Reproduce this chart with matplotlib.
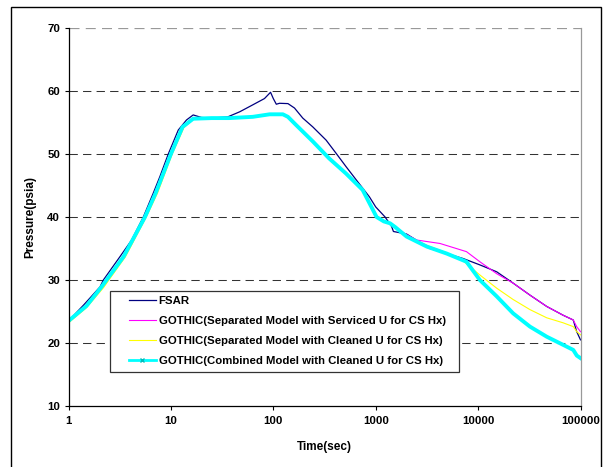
import matplotlib
matplotlib.use("Agg")
import matplotlib.pyplot as plt
from matplotlib.patches import Rectangle
from matplotlib.lines import Line2D

plt.rcParams['font.family'] = ['Liberation Sans', 'DejaVu Sans']
plt.rcParams['font.weight'] = 'bold'

# ---- data ----
fsar_t = [1, 1.4, 2.03, 2.19, 3.18, 4.14, 5.38, 6.73, 7.8, 9.43, 11.8, 14.2, 16.5, 19.9, 25,
          36, 47, 63, 82, 94, 100, 107, 115, 139, 161, 194, 243, 328, 411, 513, 645, 868,
          1000, 1235, 1430, 1490, 2000, 3390, 4930, 7170, 10400, 15200, 22000, 32100,
          46800, 67800, 85000, 91800, 100000]
fsar_p = [23.5, 26.0, 28.9, 30.0, 33.7, 36.35, 40.0, 43.8, 46.4, 50.0, 53.8, 55.4, 56.2, 55.8,
          55.7, 55.9, 56.7, 57.8, 58.8, 59.8, 58.8, 57.9, 58.05, 58.0, 57.3, 55.7, 54.3,
          52.2, 50.1, 48.0, 45.9, 43.2, 41.6, 40.0, 38.5, 37.7, 37.3, 35.0, 34.2, 33.4,
          32.4, 31.3, 29.5, 27.6, 25.8, 24.4, 23.65, 21.8, 20.5]

comb_t = [1, 1.5, 2.1, 2.35, 3.45, 5.58, 7.1, 10, 13, 16.5, 25, 37, 63, 92, 124, 139,
          167, 243, 351, 513, 745, 1020, 1200, 1380, 1550, 2000, 3160, 4930, 7700,
          10400, 15200, 22000, 32100, 46800, 67800, 85000, 92000, 100000]
comb_p = [23.5, 25.9, 28.9, 30.0, 33.7, 40.0, 43.8, 50.0, 54.3, 55.6, 55.7, 55.7, 55.9,
          56.3, 56.3, 55.9, 54.6, 52.0, 49.3, 46.9, 44.3, 40.0, 39.3, 39.0, 38.4, 36.9,
          35.3, 34.2, 32.9, 30.0, 27.4, 24.7, 22.6, 21.0, 19.7, 18.9, 18.0, 17.6]

serv_t = [1, 1.5, 2.15, 2.42, 3.55, 5.7, 7.3, 10.2, 13.3, 16.8, 25, 37, 63, 92, 124, 139,
          167, 243, 351, 513, 745, 1020, 1200, 1380, 1550, 2000, 2500, 4240, 7700,
          10400, 15200, 22000, 32100, 46800, 67800, 85000, 91800, 100000]
serv_p = [23.3, 25.7, 28.9, 30.0, 33.7, 40.0, 43.8, 50.0, 54.2, 55.6, 55.7, 55.7, 55.9,
          56.2, 56.2, 55.8, 54.5, 51.9, 49.2, 46.8, 44.2, 40.0, 39.3, 39.0, 38.4, 37.2,
          36.35, 35.8, 34.5, 32.9, 31.0, 29.5, 27.6, 25.8, 24.4, 23.65, 22.6, 21.8]

clean_t = [1, 1.5, 2.2, 2.48, 3.6, 5.75, 7.4, 10.3, 13.4, 16.8, 25, 37, 63, 92, 124, 139,
           167, 243, 351, 513, 745, 1020, 1200, 1380, 1550, 2000, 3160, 4930, 7170,
           10400, 15200, 22000, 32100, 46800, 67800, 85000, 92000, 100000]
clean_p = [23.2, 25.6, 28.8, 30.0, 33.7, 40.0, 43.8, 50.0, 54.2, 55.6, 55.7, 55.7, 55.9,
           56.2, 56.2, 55.8, 54.5, 51.9, 49.2, 46.8, 44.2, 40.0, 39.3, 39.0, 38.4, 37.0,
           35.5, 34.3, 33.0, 30.8, 28.7, 26.9, 25.3, 24.0, 23.2, 22.6, 21.8, 21.3]

labels = ["FSAR",
          "GOTHIC(Separated Model with Serviced U for CS Hx)",
          "GOTHIC(Separated Model with Cleaned U for CS Hx)",
          "GOTHIC(Combined Model with Cleaned U for CS Hx)"]
xticks = [1, 10, 100, 1000, 10000, 100000]
xticklabels = ["1", "10", "100", "1000", "10000", "100000"]
yticks = [10, 20, 30, 40, 50, 60, 70]

W, H = 604, 467
fig = plt.figure(figsize=(W / 100, H / 100), dpi=100)
ax = fig.add_axes([68.5 / W, 1 - 406 / H, (580.5 - 68.5) / W, (406 - 28) / H])

l1, = ax.plot(fsar_t, fsar_p, color='#000080', lw=0.9)
l2, = ax.plot(serv_t, serv_p, color='#ff00ff', lw=0.8)
l3, = ax.plot(clean_t, clean_p, color='#ffff00', lw=0.8)
l4, = ax.plot(comb_t, comb_p, color='#00ffff', lw=2.8)

ax.set_xscale('log')
ax.set_xlim(1, 100000)
ax.set_ylim(10, 70)
ax.set_xticks(xticks)
ax.set_xticklabels(xticklabels)
ax.minorticks_off()
ax.set_yticks(yticks)

for y in yticks[1:-1]:
    ax.axhline(y, color='#333333', lw=0.75, dashes=(8, 5), zorder=0.5)
ax.axhline(70, color='#999999', lw=0.9, dashes=(8, 5), zorder=0.5)

ax.spines['top'].set_visible(False)
ax.spines['right'].set_color('#999999')
ax.spines['right'].set_linewidth(0.9)
for s in ['left', 'bottom']:
    ax.spines[s].set_color('black')
    ax.spines[s].set_linewidth(0.9)

ax.tick_params(axis='both', direction='out', length=3, width=0.8, labelsize=8.2, pad=3)
ax.tick_params(axis='x', pad=4)

ax.set_xlabel("Time(sec)", fontsize=8.5, fontweight='bold', labelpad=11)
ax.set_ylabel("Pressure(psia)", fontsize=8.5, fontweight='bold', labelpad=8)

# legend box (white, covers gridlines) and legend entries on top
fig.add_artist(Rectangle((110 / W, 1 - 372 / H), (459 - 110) / W, (372 - 291) / H,
                         transform=fig.transFigure, facecolor='white', edgecolor='#333333',
                         lw=0.9, zorder=3))
h4 = Line2D([], [], color='#00ffff', lw=2.0, marker='x', markersize=2.5, markeredgecolor='#00bcbc')
leg = fig.legend([l1, l2, l3, h4], labels, loc='upper left',
                 bbox_to_anchor=(128.5 / W, 1 - 296 / H), frameon=False,
                 prop={'size': 8.2, 'weight': 'bold'}, handlelength=2.45,
                 handletextpad=0.2, labelspacing=0.88, borderpad=0, borderaxespad=0)
leg.set_zorder(5)

# outer frame
fig.add_artist(Rectangle((11 / W, -0.05), (601 - 11) / W, 1.05 - 7.5 / H,
                         transform=fig.transFigure, fill=False, edgecolor='black', lw=1.0,
                         clip_on=False))

fig.savefig("out.png", dpi=100)
